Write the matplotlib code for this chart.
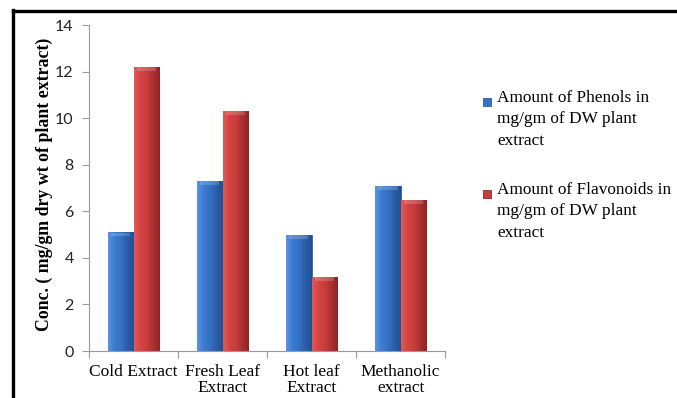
import numpy as np
import matplotlib.pyplot as plt
from matplotlib.colors import LinearSegmentedColormap
from matplotlib.lines import Line2D

categories = ["Cold Extract", "Fresh Leaf\nExtract", "Hot leaf\nExtract", "Methanolic\nextract"]
phenols = [5.1, 7.3, 5.0, 7.1]
flavonoids = [12.2, 10.3, 3.2, 6.5]
series_labels = ["Amount of Phenols in\nmg/gm of DW plant\nextract",
                 "Amount of Flavonoids in\nmg/gm of DW plant\nextract"]
y_ticks = [0, 2, 4, 6, 8, 10, 12, 14]

serif = "Liberation Serif"
sans = "Lato"

blue_map = LinearSegmentedColormap.from_list("blue", ["#5b95e0", "#3b7bd2", "#3572c4", "#2a5ea8", "#234f8f"])
red_map = LinearSegmentedColormap.from_list("red", ["#e05a5a", "#d44343", "#c83d3d", "#ab3030", "#8e2525"])
series_colors = [("#3572c4", "#2a5a9c"), ("#c83d3d", "#8e2525")]


def shade_bars(ax, bars, cmap):
    # horizontal gradient inside each bar, clipped to the bar outline
    grad = np.linspace(0, 1, 64).reshape(1, -1)
    for b in bars:
        x, y = b.get_x(), b.get_y()
        w, h = b.get_width(), b.get_height()
        im = ax.imshow(grad, cmap=cmap, aspect="auto", extent=[x, x + w, y, y + h],
                       origin="lower", zorder=b.get_zorder() + 0.1)
        im.set_clip_path(b)
        # lighter cap at the top of the bar
        ax.fill_between([x + w * 0.12, x + w * 0.88], y + h - 0.18, y + h - 0.01,
                        color="white", alpha=0.18, lw=0, zorder=b.get_zorder() + 0.2)


fig = plt.figure(figsize=(6.77, 3.98), dpi=100)
ax = fig.add_axes([0.1315, 0.118, 0.526, 0.819])

x = np.arange(len(categories))
width = 0.29
bars1 = ax.bar(x - width / 2, phenols, width, color=series_colors[0][0], edgecolor=series_colors[0][1],
               lw=0.6, zorder=2)
bars2 = ax.bar(x + width / 2, flavonoids, width, color=series_colors[1][0], edgecolor=series_colors[1][1],
               lw=0.6, zorder=2)
shade_bars(ax, bars1, blue_map)
shade_bars(ax, bars2, red_map)

ax.set_xlim(-0.5, len(categories) - 0.5)
ax.set_ylim(0, 14)
ax.set_yticks(y_ticks)
ax.set_yticklabels([str(t) for t in y_ticks], fontfamily=sans, fontsize=11.5, color="#222222")

# category labels between tick marks at the group boundaries
ax.set_xticks(np.arange(-0.5, len(categories), 1.0))
ax.set_xticklabels([])
ax.set_xticks(x, minor=True)
ax.set_xticklabels(categories, minor=True, fontfamily=serif, fontsize=12.5, linespacing=1.05)
ax.tick_params(axis="x", which="minor", length=0, pad=9)
ax.tick_params(axis="x", which="major", length=5, color="#999999")
ax.tick_params(axis="y", length=5, color="#999999", pad=6)

for s in ["top", "right"]:
    ax.spines[s].set_visible(False)
for s in ["left", "bottom"]:
    ax.spines[s].set_color("#999999")
    ax.spines[s].set_linewidth(0.8)

ax.set_ylabel("Conc. ( mg/gm dry wt of plant extract)", fontfamily=serif, fontweight="bold",
              fontsize=12.8)
ax.yaxis.set_label_coords(-0.100, 0.51)

# legend: marker square beside the first line of each entry
for i, (label, (fc, ec)) in enumerate(zip(series_labels, series_colors)):
    ytop = 0.744 - i * 0.231
    fig.patches.append(plt.Rectangle((0.7135, ytop - 0.011), 0.0118, 0.0201, facecolor=fc, edgecolor=ec,
                                     lw=0.6, transform=fig.transFigure, figure=fig))
    fig.text(0.734, ytop + 0.03, label, ha="left", va="top", fontfamily=serif, fontsize=12.4,
             linespacing=1.46)

# black frame along the top and left edges
fig.add_artist(Line2D([0.019, 1.0], [0.973, 0.973], color="black", lw=2.4, transform=fig.transFigure))
fig.add_artist(Line2D([0.0195, 0.0195], [0.0, 0.975], color="black", lw=2.4, transform=fig.transFigure))

fig.savefig("out.png", dpi=100)
